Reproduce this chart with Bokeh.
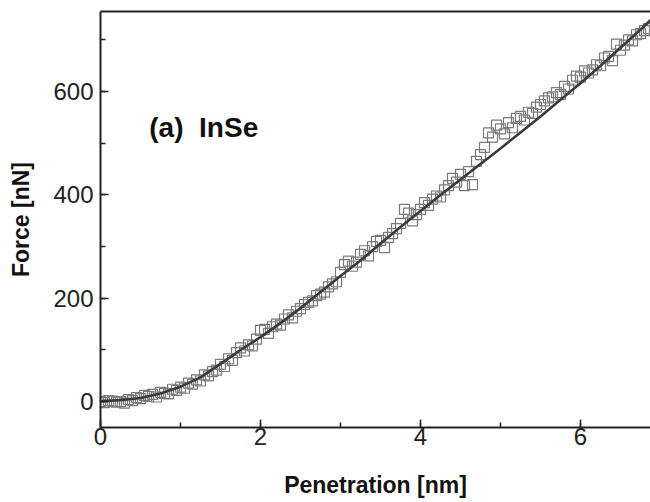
from bokeh.plotting import figure
from bokeh.models import ColumnDataSource, LinearAxis, SingleIntervalTicker, FixedTicker, Range1d
from bokeh.core.properties import value
from bokeh.embed import file_html
from bokeh.resources import INLINE

# measured data (penetration in nm, force in nN)
data_x = [round(i * 0.05, 2) for i in range(138)]
data_y = [0, -2, 2, 1, -1, 0, -3, 4, 2, 8,
          6, 12, 10, 14, 9, 18, 16, 15, 24, 22,
          28, 26, 36, 34, 42, 40, 52, 50, 58, 61,
          72, 68, 83, 80, 95, 104, 98, 110, 108, 121,
          138, 140, 132, 145, 150, 148, 160, 168, 162, 175,
          180, 188, 192, 195, 205, 208, 212, 222, 228, 232,
          250, 265, 272, 262, 270, 285, 292, 282, 300, 310,
          312, 298, 318, 325, 335, 345, 372, 365, 350, 362,
          372, 385, 380, 392, 398, 396, 410, 418, 432, 425,
          440, 418, 445, 420, 465, 478, 492, 520, 512, 535,
          528, 518, 540, 530, 548, 552, 545, 560, 558, 570,
          575, 582, 588, 590, 598, 594, 610, 605, 622, 630,
          628, 640, 636, 642, 652, 650, 665, 668, 660, 692,
          680, 690, 700, 698, 710, 712, 718, 722]

# fitted curve
fit_x = [0, 0.25, 0.5, 0.75, 1.0, 1.25, 1.5, 1.75, 2.0, 2.25, 2.5, 2.75, 3.0, 3.25,
         3.5, 3.75, 4.0, 4.25, 4.5, 4.75, 5.0, 5.25, 5.5, 5.75, 6.0, 6.25, 6.5, 6.75, 6.9]
fit_y = [1, 3, 7, 16, 29, 47, 73, 100, 125, 152, 181, 212, 243, 273,
         306, 338, 369, 400, 430, 460, 490, 521, 552, 584, 616, 650, 685, 720, 742]

x_ticks_interval = 2
y_ticks_interval = 200
panel_label = "(a)\u00a0\u00a0InSe"
x_label = "Penetration [nm]"
y_label = "Force [nN]"

FONT = "Liberation Sans"
DARK = "#222222"

p = figure(width=650, height=502, output_backend="svg", toolbar_location=None,
           x_range=Range1d(0, 6.875), y_range=Range1d(-50, 755),
           min_border_left=100, min_border_right=0, min_border_top=11, min_border_bottom=75,
           x_axis_type=None, y_axis_type=None)
p.outline_line_color = None
p.xgrid.visible = False
p.ygrid.visible = False
p.background_fill_color = "white"
p.border_fill_color = "white"

xaxis = LinearAxis(ticker=SingleIntervalTicker(interval=x_ticks_interval, num_minor_ticks=2))
yaxis = LinearAxis(ticker=SingleIntervalTicker(interval=y_ticks_interval, num_minor_ticks=2))
for ax in (xaxis, yaxis):
    ax.axis_line_width = 2
    ax.axis_line_color = DARK
    ax.major_tick_in = 8
    ax.major_tick_out = 0
    ax.minor_tick_in = 5
    ax.minor_tick_out = 0
    ax.major_tick_line_width = 1.5
    ax.minor_tick_line_width = 1.5
    ax.major_tick_line_color = DARK
    ax.minor_tick_line_color = DARK
    ax.major_label_text_font = FONT
    ax.major_label_text_font_size = "24px"
    ax.major_label_text_color = DARK
    ax.axis_label_text_font = FONT
    ax.axis_label_text_font_size = "23px"
    ax.axis_label_text_font_style = "bold"
    ax.axis_label_text_color = "#111111"
xaxis.axis_label = x_label
yaxis.axis_label = y_label
xaxis.major_label_standoff = 0
xaxis.axis_label_standoff = 24
yaxis.major_label_standoff = 7
yaxis.axis_label_standoff = 16
p.add_layout(xaxis, "below")
p.add_layout(yaxis, "left")

top = LinearAxis(ticker=FixedTicker(ticks=[]), axis_line_width=2, axis_line_color=DARK,
                 major_label_text_font_size="0px", major_tick_in=0, major_tick_out=0,
                 minor_tick_in=0, minor_tick_out=0, major_label_standoff=0)
p.add_layout(top, "above")

src = ColumnDataSource(dict(x=data_x, y=data_y))
p.scatter("x", "y", source=src, marker="square", size=10, fill_color=None,
          line_color="#7a7a7a", line_width=1.2)
p.line(fit_x, fit_y, line_color="#3a3a3a", line_width=2.6)

p.text(x=[0.61], y=[530], text=[panel_label], text_font=value(FONT), text_font_size="28px",
       text_font_style="bold", text_color="#111111", text_baseline="alphabetic", text_align="left")

open("out.html", "w").write(file_html(p, INLINE))
